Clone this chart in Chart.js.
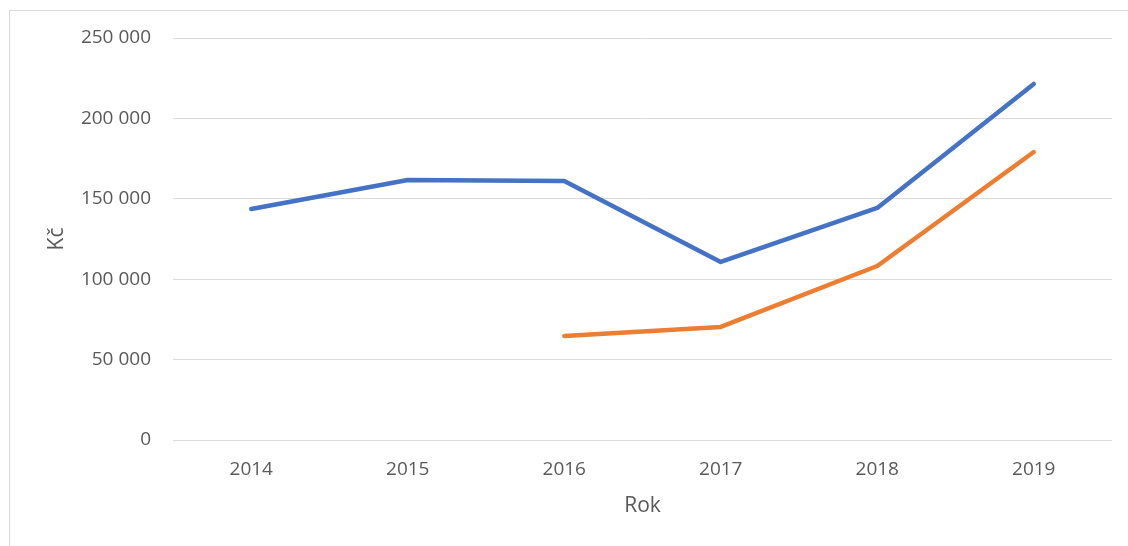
<!DOCTYPE html>
<html>
<head>
<meta charset="utf-8">
<script src="https://cdn.jsdelivr.net/npm/chart.js@4/dist/chart.umd.min.js"></script>
<style>
  html, body { margin: 0; padding: 0; background: #fff; overflow: hidden; }
  .frame { position: absolute; left: 9px; top: 10px; width: 1400px; height: 800px; border: 1px solid #d9d9d9; }
  #chart { position: absolute; left: 0; top: 0; }
</style>
</head>
<body>
<div class="frame"></div>
<canvas id="chart" width="1128" height="546"></canvas>
<script>
const years = ['2014', '2015', '2016', '2017', '2018', '2019'];
const seriesBlue = [143700, 161700, 161000, 110700, 144300, 221400];
const seriesOrange = [null, null, 64700, 70300, 108200, 179100];
const yTicks = [0, 50000, 100000, 150000, 200000, 250000];

const textColor = '#595959';
const gridColor = '#d9d9d9';

function formatNum(v) {
    return String(v).replace(/\B(?=(\d{3})+(?!\d))/g, ' ');
}

const chart = document.querySelector('#chart');

new Chart(chart, {
    type: 'line',
    data: {
        labels: years,
        datasets: [{
            data: seriesBlue,
            borderColor: '#4472c4',
            borderWidth: 4.5,
            borderCapStyle: 'round',
            borderJoinStyle: 'round',
            pointRadius: 0,
            tension: 0,
        }, {
            data: seriesOrange,
            borderColor: '#ed7d31',
            borderWidth: 4.5,
            borderCapStyle: 'round',
            borderJoinStyle: 'round',
            pointRadius: 0,
            tension: 0,
        }]
    },
    options: {
        responsive: false,
        animation: false,
        layout: { padding: { top: 38, right: 16, left: 0, bottom: 0 } },
        plugins: { legend: { display: false }, tooltip: { enabled: false } },
        scales: {
            x: {
                offset: true,
                grid: { display: false, drawTicks: false },
                border: { display: false },
                ticks: { color: textColor, font: { family: 'Open Sans', size: 19 }, padding: 18, maxRotation: 0 },
                title: { display: true, text: 'Rok', color: textColor, font: { family: 'Open Sans', size: 21 }, padding: { top: 0, bottom: 27 } },
                afterFit: scale => { scale.height = 106; }
            },
            y: {
                min: 0,
                max: 250000,
                afterBuildTicks: scale => { scale.ticks = yTicks.map(v => ({ value: v })); },
                grid: { color: gridColor, lineWidth: 1, drawTicks: false },
                border: { display: false },
                ticks: { color: textColor, font: { family: 'Open Sans', size: 19 }, padding: 22, callback: v => formatNum(v) },
                title: { display: true, text: 'Kč', color: textColor, font: { family: 'Open Sans', size: 21 }, padding: { top: 44, bottom: 0 } },
                afterFit: scale => { scale.width = 173; }
            }
        }
    }
});
</script>
</body>
</html>
